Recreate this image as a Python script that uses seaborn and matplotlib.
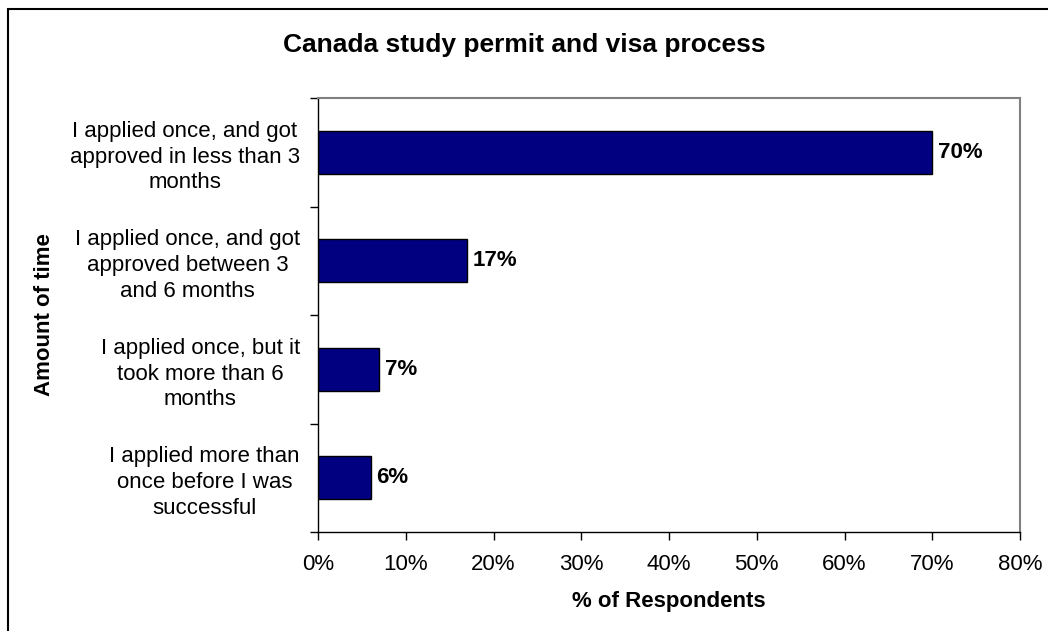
import matplotlib
matplotlib.use("Agg")
import matplotlib.pyplot as plt
from matplotlib.patches import Rectangle
from matplotlib.ticker import FixedLocator, PercentFormatter
import seaborn as sns
import pandas as pd

categories = [
    "I applied once, and got\napproved in less than 3\nmonths",
    "I applied once, and got\napproved between 3\nand 6 months",
    "I applied once, but it\ntook more than 6\nmonths",
    "I applied more than\nonce before I was\nsuccessful",
]
shares = [70, 17, 7, 6]
x_ticks = [0, 10, 20, 30, 40, 50, 60, 70, 80]

sns.set_theme(style="white")
plt.rcParams["font.family"] = ["Liberation Sans", "DejaVu Sans"]
plt.rcParams["text.color"] = "black"
plt.rcParams["axes.labelcolor"] = "black"
plt.rcParams["xtick.color"] = "black"
plt.rcParams["ytick.color"] = "black"

FS = 16
W, H = 1048, 631
fig = plt.figure(figsize=(W / 100, H / 100), dpi=100)
ax = fig.add_axes([318 / W, 1 - 532 / H, (1020 - 318) / W, (532 - 98) / H])

df = pd.DataFrame({"category": categories, "share": shares})
sns.barplot(data=df, x="share", y="category", orient="h", color="#000080",
            saturation=1, edgecolor="black", linewidth=1.0, width=0.4, ax=ax)

ax.set_xlim(0, 80)
ax.set_ylim(3.5, -0.5)
ax.xaxis.set_major_locator(FixedLocator(x_ticks))
ax.xaxis.set_major_formatter(PercentFormatter(decimals=0))

# value labels at bar ends
for i, v in enumerate(shares):
    ax.text(v + 0.6, i, f"{v}%", va="center", ha="left",
            fontsize=FS, fontweight="bold", color="black")

# spines: black axes, grey frame on top/right
for side in ("left", "bottom"):
    ax.spines[side].set_color("black")
    ax.spines[side].set_linewidth(1.0)
for side in ("top", "right"):
    ax.spines[side].set_color("#808080")
    ax.spines[side].set_linewidth(1.5)

ax.tick_params(axis="x", which="major", direction="out", length=6, width=1,
               color="black", labelsize=FS, pad=10, bottom=True)
ax.tick_params(axis="y", which="major", length=0, labelsize=FS, pad=13)
ax.yaxis.set_minor_locator(FixedLocator([-0.5, 0.5, 1.5, 2.5, 3.5]))
ax.tick_params(axis="y", which="minor", direction="out", length=6, width=1,
               color="black", left=True)
for lbl in ax.get_yticklabels():
    lbl.set_multialignment("center")
    lbl.set_linespacing(1.3)

ax.set_xlabel("% of Respondents", fontsize=FS, fontweight="bold")
ax.xaxis.set_label_coords(0.5, -(601 - 532) / (532 - 98))
ax.xaxis.label.set_va("center")
ax.set_ylabel("Amount of time", fontsize=FS, fontweight="bold")
ax.yaxis.set_label_coords(-(318 - 45) / (1020 - 318), 0.5)
ax.yaxis.label.set_va("center")

fig.text(524 / W, 1 - 45 / H, "Canada study permit and visa process",
         ha="center", va="center", fontsize=19, fontweight="bold")

# outer chart frame
fig.patches.append(Rectangle((8 / W, -0.1), 1.2, 1 - 9 / H + 0.1,
                             transform=fig.transFigure, fill=False,
                             edgecolor="black", linewidth=1.5))

fig.savefig("out.png", dpi=100, facecolor="white")
